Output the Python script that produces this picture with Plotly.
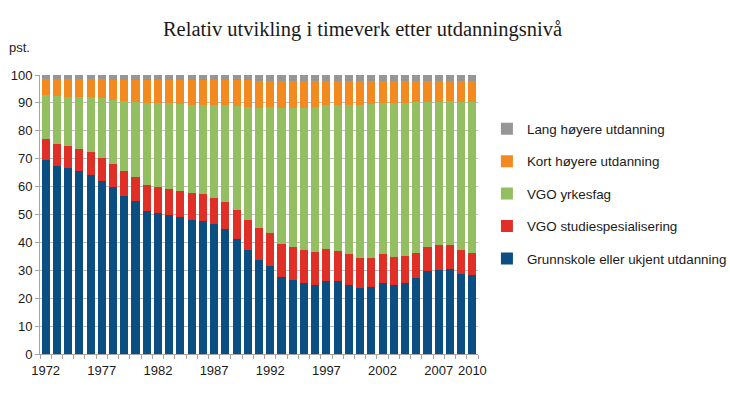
import plotly.graph_objects as go

years = list(range(1972, 2011))

grunnskole = [69.4, 67.5, 66.7, 65.7, 64.3, 62.1, 60.0, 56.8, 54.7, 51.2,
              50.5, 49.9, 49.0, 48.1, 47.7, 46.6, 44.7, 41.1, 37.2, 33.7,
              31.7, 27.5, 26.4, 25.4, 24.7, 26.1, 26.0, 24.9, 23.7, 23.9,
              25.5, 24.7, 25.4, 27.1, 29.6, 30.2, 30.3, 28.7, 28.2]
studiespes = [7.5, 7.7, 7.8, 7.8, 8.0, 8.0, 8.1, 8.7, 8.7, 9.2,
              9.3, 9.3, 9.4, 9.5, 9.5, 9.4, 9.9, 10.5, 10.9, 11.5,
              11.5, 12.1, 12.1, 11.7, 11.8, 11.4, 10.8, 11.0, 10.7, 10.4,
              10.2, 10.1, 9.7, 9.2, 8.6, 8.8, 8.8, 8.5, 8.1]
yrkesfag = [15.8, 17.1, 17.7, 18.6, 19.7, 21.5, 23.1, 25.2, 27.0, 29.6,
            30.2, 30.7, 31.3, 31.8, 32.1, 33.4, 34.5, 37.2, 40.4, 42.8,
            45.4, 48.4, 49.5, 51.1, 52.0, 51.7, 52.4, 53.4, 54.9, 55.3,
            54.2, 55.1, 54.9, 53.9, 52.1, 51.5, 51.5, 53.3, 53.9]
kort = [5.9, 6.2, 6.2, 6.3, 6.4, 6.8, 7.1, 7.6, 7.8, 8.1,
        8.1, 8.2, 8.4, 8.7, 8.8, 8.7, 9.0, 9.3, 9.6, 10.0,
        9.4, 10.0, 10.0, 9.8, 9.5, 8.8, 8.8, 8.7, 8.7, 8.4,
        8.1, 8.1, 8.0, 7.8, 7.7, 7.5, 7.4, 7.5, 7.8]
lang = [1.4, 1.5, 1.6, 1.6, 1.6, 1.6, 1.7, 1.7, 1.8, 1.9,
        1.9, 1.9, 1.9, 1.9, 1.9, 1.9, 1.9, 1.9, 1.9, 2.0,
        2.0, 2.0, 2.0, 2.0, 2.0, 2.0, 2.0, 2.0, 2.0, 2.0,
        2.0, 2.0, 2.0, 2.0, 2.0, 2.0, 2.0, 2.0, 2.0]

series = [
    ("Grunnskole eller ukjent utdanning", grunnskole, "#0b4f82"),
    ("VGO studiespesialisering", studiespes, "#df2f27"),
    ("VGO yrkesfag", yrkesfag, "#93be62"),
    ("Kort høyere utdanning", kort, "#f28a1f"),
    ("Lang høyere utdanning", lang, "#969696"),
]

tick_labels = [1972, 1977, 1982, 1987, 1992, 1997, 2002, 2007, 2010]

fig = go.Figure()
n = len(series)
for i, (name, vals, col) in enumerate(series):
    fig.add_trace(go.Bar(
        x=years, y=vals, name=name, marker_color=col,
        marker_line_width=0, legendgroup=f"g{i}", legendrank=n - i,
    ))

font_main = "Liberation Sans, Arial, sans-serif"

fig.update_layout(
    width=730, height=394,
    barmode="stack", bargap=0.28,
    plot_bgcolor="white", paper_bgcolor="white",
    margin=dict(l=40, r=252, t=75, b=40, autoexpand=False),
    title=dict(
        text="Relativ utvikling i timeverk etter utdanningsnivå",
        x=362.5 / 730, xanchor="center", y=1 - 29 / 394, yanchor="middle",
        xref="container", yref="container",
        font=dict(family="Liberation Serif, Times New Roman, serif", size=20.5, color="#1a1a1a"),
    ),
    font=dict(family=font_main, size=13, color="#1a1a1a"),
    legend=dict(
        x=1.0204, xanchor="left", y=0.862, yanchor="top",
        traceorder="grouped", tracegroupgap=12,
        font=dict(size=13.4, family=font_main, color="#1a1a1a"),
        itemwidth=30,
    ),
    showlegend=True,
)

fig.update_xaxes(
    range=[1971.5, 2010.5],
    tickvals=tick_labels, ticktext=[str(t) for t in tick_labels],
    ticks="", showgrid=False, ticklabelstandoff=4,
    showline=True, linecolor="#a6a6a6", linewidth=1,
    tickfont=dict(size=13, family=font_main, color="#1a1a1a"),
    minor=dict(ticks="outside", tick0=1971.5, dtick=1, ticklen=4,
               tickcolor="#a6a6a6", showgrid=False),
)
fig.update_yaxes(
    range=[0, 100], dtick=10,
    showgrid=True, gridcolor="#c0c0c0", gridwidth=1,
    showline=True, linecolor="#a6a6a6", linewidth=1,
    ticks="outside", ticklen=4, tickcolor="#a6a6a6",
    tickfont=dict(size=13, family=font_main, color="#1a1a1a"),
    zeroline=False,
)

fig.add_annotation(
    text="pst.", xref="paper", yref="paper",
    x=-0.046, y=1.10, xanchor="center", yanchor="middle",
    showarrow=False, font=dict(size=13, family=font_main, color="#1a1a1a"),
)

fig.write_html("out.html", config={"displayModeBar": False},
               post_script="document.body.style.margin='0';")
